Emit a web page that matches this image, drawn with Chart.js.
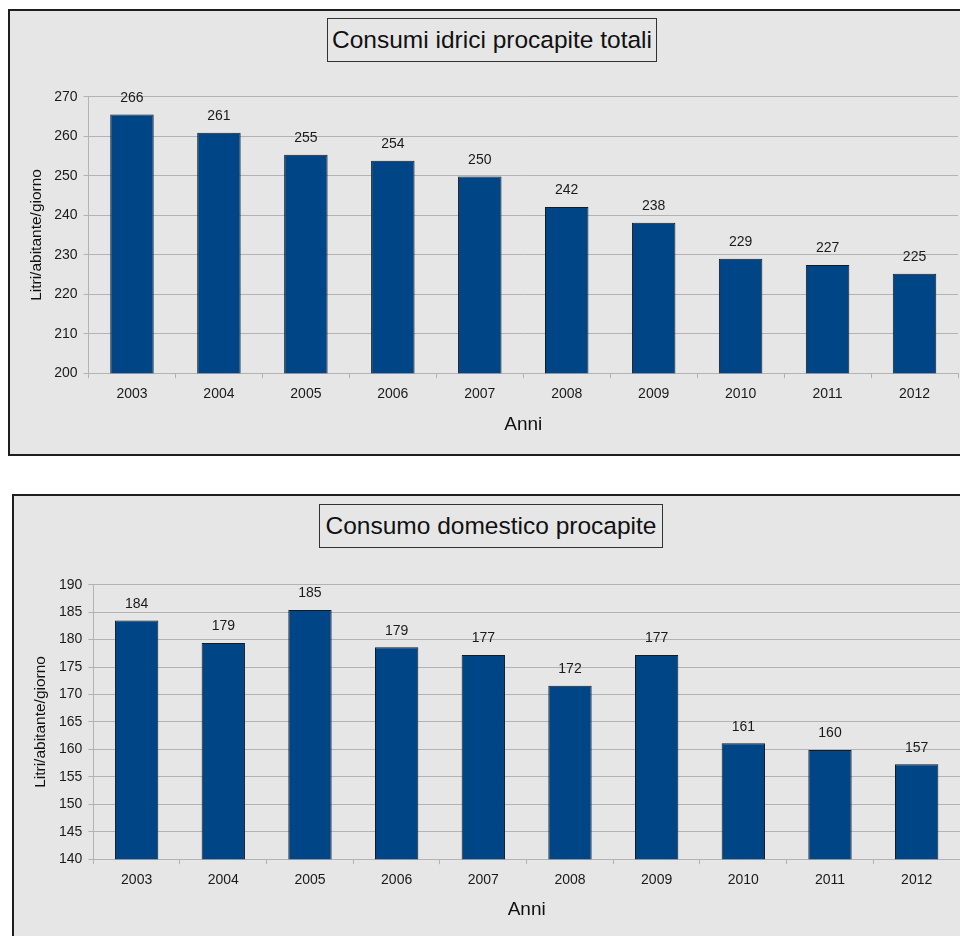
<!DOCTYPE html>
<html>
<head>
<meta charset="utf-8">
<script src="https://cdn.jsdelivr.net/npm/chart.js@4"></script>
<style>
  html, body { margin:0; padding:0; background:#ffffff; width:960px; height:936px; overflow:hidden; position:relative; }
  .box { position:absolute; border:2px solid #1e1e1e; background:#e6e6e6; width:963px; height:443px; }
  .box canvas { display:block; }
  .ttl { position:absolute; box-sizing:border-box; border:1px solid #333; background:#e6e6e6;
         font-family:"Liberation Sans", Arial, sans-serif; font-size:24.5px; color:#111;
         text-align:center; white-space:nowrap; z-index:5; }
</style>
</head>
<body>
<div class="box" style="left:8px;top:9px;"><canvas id="cv1" width="963" height="443"></canvas></div>
<div class="box" style="left:12px;top:494px;"><canvas id="cv2" width="963" height="443"></canvas></div>
<div class="ttl" style="left:327px;top:18px;width:330px;height:44px;line-height:42px;">Consumi idrici procapite totali</div>
<div class="ttl" style="left:319px;top:504px;width:344px;height:44px;line-height:42px;">Consumo domestico procapite</div>
<script>
// ---- data ----
const years = ['2003','2004','2005','2006','2007','2008','2009','2010','2011','2012'];
const totalPerCapita = [265.5, 260.9, 255.3, 253.8, 249.8, 242.1, 238.1, 229.0, 227.4, 225.2];
const domesticPerCapita = [183.5, 179.4, 185.4, 178.6, 177.2, 171.6, 177.2, 161.1, 159.9, 157.3];
const xTitle = 'Anni';
const yTitle = 'Litri/abitante/giorno';
const totalRange = [200, 270, 10];
const domesticRange = [140, 190, 5];

const FONT = '"Liberation Sans", Arial, sans-serif';
const GRID = '#b3b3b3';

const valueLabels = {
  id: 'valueLabels',
  afterDatasetsDraw(chart) {
    const ctx = chart.ctx;
    const meta = chart.getDatasetMeta(0);
    const data = chart.data.datasets[0].data;
    ctx.save();
    ctx.font = '14px ' + FONT;
    ctx.fillStyle = '#1a1a1a';
    ctx.textAlign = 'center';
    ctx.textBaseline = 'alphabetic';
    meta.data.forEach((bar, i) => {
      ctx.fillText(String(Math.round(data[i])), bar.x, bar.y - 12.5);
    });
    ctx.restore();
  }
};

function makeChart(id, values, range, geom) {
  return new Chart(document.getElementById(id), {
    type: 'bar',
    data: {
      labels: years,
      datasets: [{
        data: values,
        backgroundColor: '#004586',
        borderColor: '#1a1a1a',
        borderWidth: 1,
        barPercentage: 0.5,
        categoryPercentage: 1.0
      }]
    },
    options: {
      responsive: false,
      animation: false,
      devicePixelRatio: 1,
      layout: { padding: { top: geom.top, right: geom.right, left: 0, bottom: 0 } },
      plugins: { legend: { display: false }, tooltip: { enabled: false }, title: { display: false } },
      scales: {
        x: {
          offset: true,
          grid: { offset: true, drawOnChartArea: false, drawTicks: true, tickLength: 5, color: GRID },
          border: { display: true, color: GRID, width: 1 },
          ticks: { color: '#1a1a1a', font: { family: FONT, size: 14 }, padding: 8, maxRotation: 0 },
          title: { display: true, text: xTitle, color: '#111', font: { family: FONT, size: 19 }, padding: { top: 0, bottom: 18 } },
          afterFit: s => { s.height = geom.xh; }
        },
        y: {
          min: range[0], max: range[1],
          grid: { color: GRID, lineWidth: 1, drawTicks: true, tickLength: 5 },
          border: { display: true, color: GRID, width: 1 },
          ticks: { stepSize: range[2], color: '#1a1a1a', font: { family: FONT, size: 14 }, padding: 6 },
          title: { display: true, text: yTitle, color: '#111', font: { family: FONT, size: 15.5 }, padding: { top: 17.2, bottom: 0 } },
          afterFit: s => { s.width = geom.yw; }
        }
      }
    },
    plugins: [valueLabels]
  });
}

makeChart('cv1', totalPerCapita, totalRange, { top: 85.7, right: 15, xh: 80.8, yw: 78.5 });
makeChart('cv2', domesticPerCapita, domesticRange, { top: 88.7, right: 17, xh: 79.8, yw: 79.3 });
</script>
</body>
</html>
